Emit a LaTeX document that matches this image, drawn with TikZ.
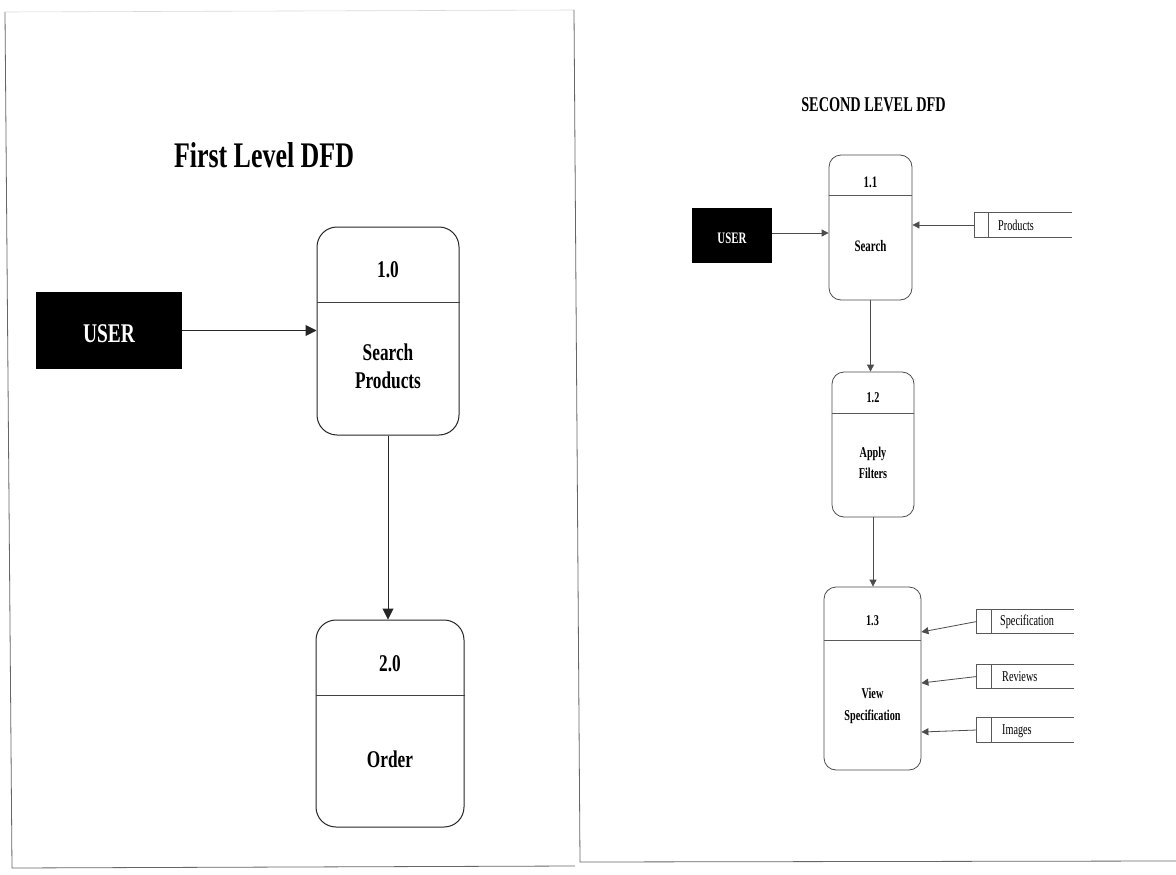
\documentclass[tikz,border=0pt]{standalone}
\usepackage{fontspec}
\setmainfont{Liberation Serif}
\newfontfamily\condA[FakeStretch=0.72]{Liberation Serif}
\newfontfamily\condB[FakeStretch=0.68]{Liberation Serif}
\usetikzlibrary{arrows.meta}
\begin{document}
\begin{tikzpicture}[x=1pt,y=-1pt,
  frame/.style={draw=black!60, line width=0.8pt},
  procL/.style={draw=black!85, line width=1pt, rounded corners=20pt, inner sep=0pt},
  procR/.style={draw=black!70, line width=0.8pt, rounded corners=12pt, inner sep=0pt},
  extL/.style={fill=black, inner sep=0pt},
  divL/.style={draw=black!75, line width=0.9pt},
  divR/.style={draw=black!65, line width=0.7pt},
  flowL/.style={draw=black!85, line width=1pt, -{Triangle[length=11pt,width=11pt]}},
  flowR/.style={draw=black!70, line width=0.8pt, -{Triangle[length=7pt,width=7pt]}},
  storebox/.style={inner sep=0pt, minimum width=97pt, minimum height=24pt},
  storeline/.style={draw=black!65, line width=0.7pt},
  txtL/.style={anchor=base, inner sep=0pt, font=\condA\bfseries\fontsize{24pt}{28pt}\selectfont},
  txtR/.style={anchor=base, inner sep=0pt, font=\condB\bfseries\fontsize{15pt}{18pt}\selectfont},
  stxt/.style={anchor=base west, inner sep=0pt, font=\condB\fontsize{15pt}{17pt}\selectfont}
]
\useasboundingbox (0,0) rectangle (1176,875);
\fill[white] (0,0) rectangle (1176,875);

% panel frames
\draw[frame] (5,12) -- (12,868) -- (575,866);
\draw[black!15, line width=0.6pt] (5,12) -- (574,10);
\draw[frame] (574,10) -- (580,862) -- (1176,861);

% ---------- First level ----------
\node[anchor=base, inner sep=0pt, font=\condA\bfseries\fontsize{36pt}{40pt}\selectfont] (t1) at (264,167) {First Level DFD};

\node[extL, minimum width=146pt, minimum height=77pt] (u1) at (109,330.5) {};
\node[anchor=base, inner sep=0pt, text=white, font=\condA\bfseries\fontsize{27pt}{30pt}\selectfont] (u1t) at (109,342) {USER};

\node[procL, minimum width=142pt, minimum height=208pt] (p10) at (388,331) {};
\draw[divL] (p10.west |- 0,302) -- (p10.east |- 0,302);
\node[txtL] (n10) at (388,277) {1.0};
\node[txtL] (l10a) at (388,360) {Search};
\node[txtL] (l10b) at (388,388) {Products};

\node[procL, minimum width=148pt, minimum height=207pt] (p20) at (390,723.5) {};
\draw[divL] (p20.west |- 0,695) -- (p20.east |- 0,695);
\node[txtL] (n20) at (390,671) {2.0};
\node[txtL] (l20) at (390,767) {Order};

\draw[flowL] (u1.east) -- (p10.west |- u1.east);
\draw[flowL] (p10.south) -- (p10.south |- p20.north);

% ---------- Second level ----------
\node[anchor=base, inner sep=0pt, font=\condB\bfseries\fontsize{21pt}{24pt}\selectfont] (t2) at (873.5,111) {SECOND LEVEL DFD};

\node[extL, minimum width=80pt, minimum height=55pt] (u2) at (732,235.5) {};
\node[anchor=base, inner sep=0pt, text=white, font=\condB\bfseries\fontsize{16pt}{18pt}\selectfont] (u2t) at (732,243) {USER};

\node[procR, minimum width=83pt, minimum height=145pt] (p11) at (870.5,227.5) {};
\draw[divR] (p11.west |- 0,195) -- (p11.east |- 0,195);
\node[txtR, font=\condB\bfseries\fontsize{16pt}{18pt}\selectfont] (n11) at (870.5,187) {1.1};
\node[txtR, font=\condB\bfseries\fontsize{16pt}{18pt}\selectfont] (l11) at (870.5,251.5) {Search};

\node[procR, minimum width=82pt, minimum height=145pt] (p12) at (873,444.5) {};
\draw[divR] (p12.west |- 0,413) -- (p12.east |- 0,413);
\node[txtR] (n12) at (873,402) {1.2};
\node[txtR] (l12a) at (873,457) {Apply};
\node[txtR] (l12b) at (873,478) {Filters};

\node[procR, minimum width=97pt, minimum height=183pt] (p13) at (872.5,678.5) {};
\draw[divR] (p13.west |- 0,640) -- (p13.east |- 0,640);
\node[txtR] (n13) at (872.5,625) {1.3};
\node[txtR] (l13a) at (872.5,698) {View};
\node[txtR] (l13b) at (872.5,720) {Specification};

% data stores
\node[storebox] (sP) at (1023.5,225) {};
\draw[storeline] (sP.north east) -- (sP.north west) -- (sP.south west) -- (sP.south east);
\draw[storeline] ([xshift=14pt]sP.north west) -- ([xshift=14pt]sP.south west);
\node[stxt] (sPt) at (998,230.5) {Products};

\node[storebox, minimum height=23pt] (sS) at (1025.5,621.5) {};
\draw[storeline] (sS.north east) -- (sS.north west) -- (sS.south west) -- (sS.south east);
\draw[storeline] ([xshift=15pt]sS.north west) -- ([xshift=15pt]sS.south west);
\node[stxt] (sSt) at (1000,625.5) {Specification};

\node[storebox, minimum height=23pt] (sR) at (1025.5,676.5) {};
\draw[storeline] (sR.north east) -- (sR.north west) -- (sR.south west) -- (sR.south east);
\draw[storeline] ([xshift=15pt]sR.north west) -- ([xshift=15pt]sR.south west);
\node[stxt] (sRt) at (1002,681) {Reviews};

\node[storebox] (sI) at (1025.5,730) {};
\draw[storeline] (sI.north east) -- (sI.north west) -- (sI.south west) -- (sI.south east);
\draw[storeline] ([xshift=15pt]sI.north west) -- ([xshift=15pt]sI.south west);
\node[stxt] (sIt) at (1002,734.5) {Images};

% flows
\draw[flowR] (u2.east |- 0,233) -- (p11.west |- 0,233);
\draw[flowR] (sP.west) -- (p11.east |- sP.west);
\draw[flowR] (p11.south) -- (p11.south |- p12.north);
\draw[flowR] (p12.south) -- (p12.south |- p13.north);
\draw[flowR] (sS.west) -- (p13.east |- 0,632);
\draw[flowR] (sR.west) -- (p13.east |- 0,683);
\draw[flowR] (sI.west) -- (p13.east |- 0,732);
\end{tikzpicture}
\end{document}
